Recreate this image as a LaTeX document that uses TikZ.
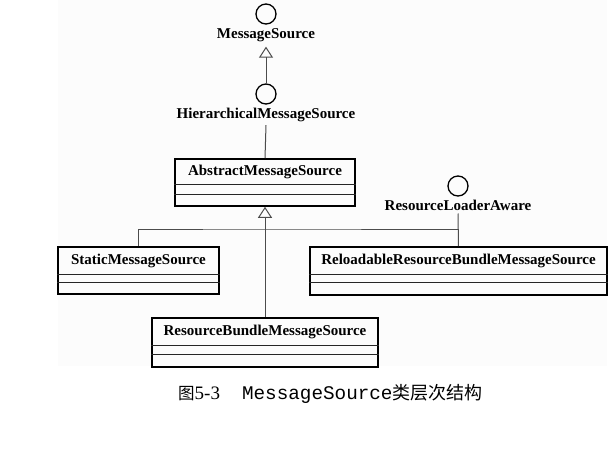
\documentclass[tikz,border=0pt]{standalone}
\usepackage{fontspec}
\setmainfont{Liberation Serif}
\newfontfamily\cjk{Noto Sans CJK SC}
\newfontfamily\monof{Liberation Mono}
\usetikzlibrary{arrows.meta,calc}
\tikzset{
  lbl/.style={font=\fontsize{15}{15}\selectfont\bfseries, inner sep=0pt},
  iface/.style={circle, draw=black, line width=1.3pt, minimum size=20pt, inner sep=0pt},
  classbox/.style={draw=black, line width=1.6pt, inner sep=0pt},
  comp/.style={line width=0.9pt, draw=black!85},
  conn/.style={draw=black!70, line width=1pt},
  realize/.style={conn, -{Triangle[open, length=11pt, width=14pt, line width=1pt]}}
}
\begin{document}
\begin{tikzpicture}[x=1pt, y=-1pt]
\useasboundingbox (0,0) rectangle (613,451);
\fill[black!1] (58,0) rectangle (607,366);

% interfaces
\node[iface] (c1) at (266,14) {};
\node[lbl] (t1) at (266,35) {MessageSource};
\node[iface] (c2) at (266,94) {};
\node[lbl] (t2) at (266,115) {HierarchicalMessageSource};
\node[iface] (c3) at (458,186) {};
\node[lbl] (t3) at (458,205) {ResourceLoaderAware};

% classes
\node[classbox, minimum width=180pt, minimum height=47pt] (abs) at (265,182.5) {};
\node[lbl] (absT) at (265,172) {AbstractMessageSource};
\draw[comp] ($(abs.north west)+(0,26)$) -- ($(abs.north east)+(0,26)$);
\draw[comp] ($(abs.north west)+(0,36)$) -- ($(abs.north east)+(0,36)$);

\node[classbox, minimum width=161pt, minimum height=47pt] (sta) at (138.5,270.5) {};
\node[lbl] (staT) at (138.5,261) {StaticMessageSource};
\draw[comp] ($(sta.north west)+(0,28)$) -- ($(sta.north east)+(0,28)$);
\draw[comp] ($(sta.north west)+(0,36)$) -- ($(sta.north east)+(0,36)$);

\node[classbox, minimum width=297pt, minimum height=48pt] (rel) at (458.5,271) {};
\node[lbl] (relT) at (458.5,261) {ReloadableResourceBundleMessageSource};
\draw[comp] ($(rel.north west)+(0,28)$) -- ($(rel.north east)+(0,28)$);
\draw[comp] ($(rel.north west)+(0,36)$) -- ($(rel.north east)+(0,36)$);

\node[classbox, minimum width=226pt, minimum height=49pt] (bun) at (265,342.5) {};
\node[lbl] (bunT) at (265,332) {ResourceBundleMessageSource};
\draw[comp] ($(bun.north west)+(0,28)$) -- ($(bun.north east)+(0,28)$);
\draw[comp] ($(bun.north west)+(0,37)$) -- ($(bun.north east)+(0,37)$);

% connectors
\draw[realize] (c2.north) -- ($(c1.south)+(0,22)$);
\draw[conn] (t2.south) ++(0,3) -- (abs.north);
\draw[realize] (bun.north) -- (abs.south);
\coordinate (j) at (266,229);
\draw[conn] (sta.north) |- (j) -| (rel.north);
\draw[conn] (t3.south) ++(0,3) -- (rel.north);

% caption
\node[inner sep=0pt, anchor=west] (cap) at (178,394) {{\cjk\fontsize{16.5}{16}\selectfont 图}{\fontsize{19}{16}\selectfont 5-3}\hspace{22pt}{\monof\fontsize{19.3}{18.5}\selectfont MessageSource}{\cjk\fontsize{18}{17.5}\selectfont 类层次结构}};
\end{tikzpicture}
\end{document}
